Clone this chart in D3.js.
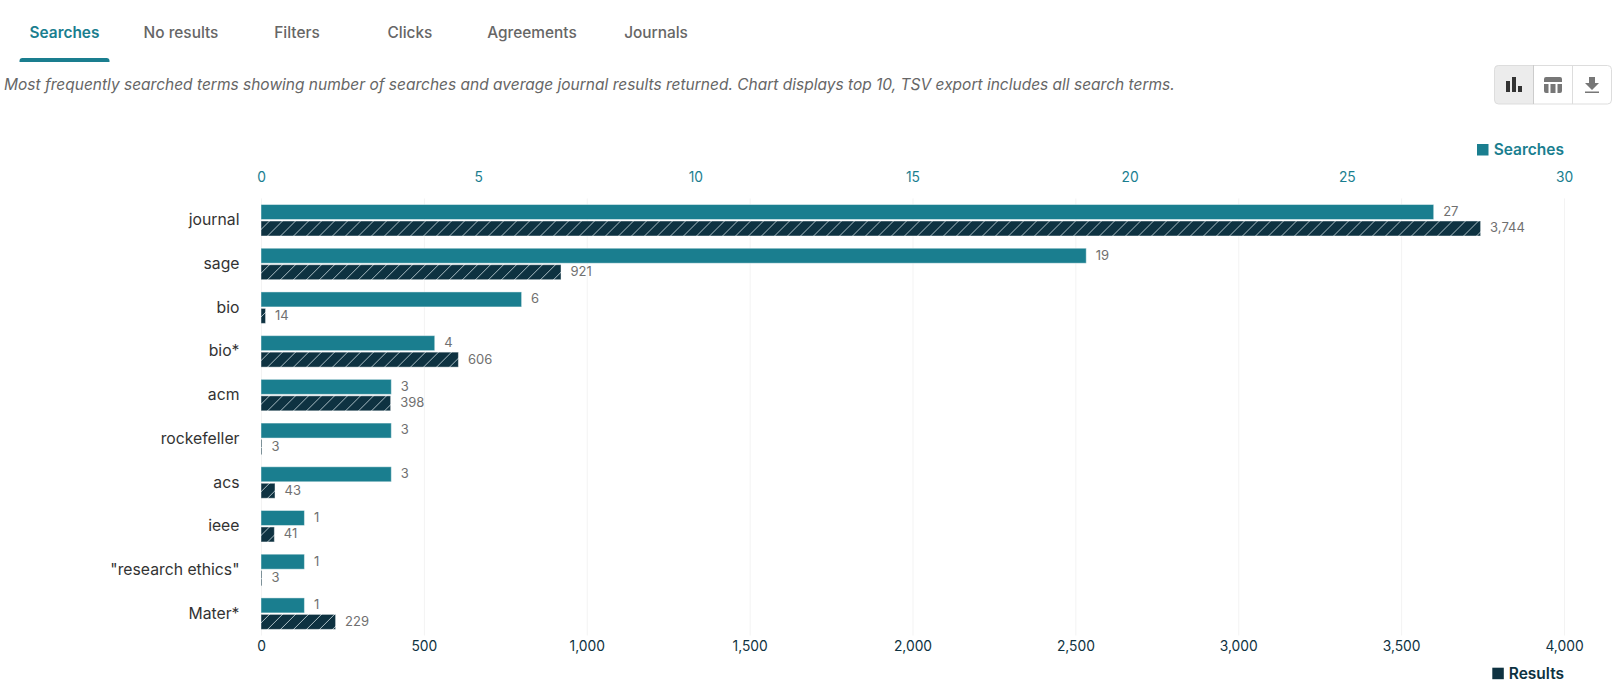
<!DOCTYPE html>
<html>
<head>
<meta charset="utf-8">
<script src="https://cdn.jsdelivr.net/npm/d3@7"></script>
<style>
  body { margin: 0; background: #fff; font-family: Inter, "Noto Sans", sans-serif; }
  svg { display: block; }
</style>
</head>
<body>
<svg id="chart" width="1616" height="692"></svg>
<script>
const terms = ['journal', 'sage', 'bio', 'bio*', 'acm', 'rockefeller', 'acs', 'ieee', '"research ethics"', 'Mater*'];
const searches = [27, 19, 6, 4, 3, 3, 3, 1, 1, 1];
const results = [3744, 921, 14, 606, 398, 3, 43, 41, 3, 229];
const searchTicks = [0, 5, 10, 15, 20, 25, 30];
const resultTicks = [0, 500, 1000, 1500, 2000, 2500, 3000, 3500, 4000];
const tabs = ['Searches', 'No results', 'Filters', 'Clicks', 'Agreements', 'Journals'];
const tabCentres = [64.5, 181, 297, 410, 532, 656];

const teal = '#1a7e8f';
const dark = '#0e3241';
const svg = d3.select('#chart');

// Tabs
svg.selectAll('.tab')
    .data(tabs)
    .enter()
    .append('text')
    .attr('class', 'tab')
    .attr('x', (d, i) => tabCentres[i])
    .attr('y', 37.5)
    .attr('text-anchor', 'middle')
    .attr('font-size', 15.4)
    .attr('font-weight', (d, i) => i === 0 ? 600 : 500)
    .attr('fill', (d, i) => i === 0 ? teal : '#666')
    .text(d => d);

svg.append('path')
    .attr('d', 'M19.5,62 v-1 a3,3 0 0 1 3,-3 h84 a3,3 0 0 1 3,3 v1 z')
    .attr('fill', teal);

svg.append('text')
    .attr('x', 4)
    .attr('y', 90)
    .attr('font-size', 15.5)
    .attr('font-style', 'italic')
    .attr('fill', '#666')
    .text('Most frequently searched terms showing number of searches and average journal results returned. Chart displays top 10, TSV export includes all search terms.');

// Toolbar buttons
const toolbar = svg.append('g');
toolbar.append('path')
    .attr('d', 'M1533.5,65 h-35 a4,4 0 0 0 -4,4 v31 a4,4 0 0 0 4,4 h35 z')
    .attr('fill', '#ececec');
toolbar.append('rect')
    .attr('x', 1494.5).attr('y', 65.5)
    .attr('width', 117).attr('height', 38.5).attr('rx', 4)
    .attr('fill', 'none').attr('stroke', '#ddd');
toolbar.append('line').attr('x1', 1533.5).attr('x2', 1533.5).attr('y1', 65).attr('y2', 104).attr('stroke', '#ccc');
toolbar.append('line').attr('x1', 1572.5).attr('x2', 1572.5).attr('y1', 65).attr('y2', 104).attr('stroke', '#ddd');
toolbar.append('path')
    .attr('d', 'M1506,81 h4 v11 h-4 z M1512,77 h4 v15 h-4 z M1518,86 h4 v6 h-4 z')
    .attr('fill', '#333');
toolbar.append('path')
    .attr('d', 'M1546,77 h14 a2,2 0 0 1 2,2 v3 h-18 v-3 a2,2 0 0 1 2,-2 z M1544,84 h4.5 v9 h-2.5 a2,2 0 0 1 -2,-2 z M1550.5,84 h5 v9 h-5 z M1557.5,84 h4.5 v7 a2,2 0 0 1 -2,2 h-2.5 z')
    .attr('fill', '#777');
toolbar.append('path')
    .attr('d', 'M1589,77 h6 v6 h4 l-7,7 l-7,-7 h4 z M1585,91.5 h14 v1.5 h-14 z')
    .attr('fill', '#777');

// Scales
const plotLeft = 261, plotRight = 1564, plotTop = 198.4, plotBottom = 635.5;
const xSearches = d3.scaleLinear().domain([0, 30]).range([plotLeft, plotRight]);
const xResults = d3.scaleLinear().domain([0, 4000]).range([plotLeft, plotRight]);
const y = d3.scaleBand().domain(terms).range([plotTop, plotBottom]).paddingInner(0.28).paddingOuter(0.14);
const inner = d3.scaleBand().domain(['searches', 'results']).range([0, y.bandwidth()]).paddingInner(0.09);

// Hatch for the results bars
const pattern = svg.append('defs').append('pattern')
    .attr('id', 'hatch')
    .attr('patternUnits', 'userSpaceOnUse')
    .attr('width', 13)
    .attr('height', 13);
pattern.append('rect').attr('width', 13).attr('height', 13).attr('fill', dark);
pattern.append('path')
    .attr('d', 'M-1,14 L14,-1 M-1,1 L1,-1 M12,14 L14,12')
    .attr('stroke', '#a9bcc3')
    .attr('stroke-width', 1);

// Axes
const topAxis = svg.append('g')
    .attr('transform', `translate(0,${plotTop})`)
    .call(d3.axisTop(xSearches).tickValues(searchTicks).tickSize(0).tickPadding(16));
topAxis.select('.domain').remove();
topAxis.selectAll('text').attr('fill', teal).attr('font-size', 13.8).attr('font-family', 'Inter');

const bottomAxis = svg.append('g')
    .attr('transform', `translate(0,${plotBottom})`)
    .call(d3.axisBottom(xResults).tickValues(resultTicks).tickSize(-(plotBottom - plotTop)).tickPadding(6).tickFormat(d3.format(',')));
bottomAxis.select('.domain').remove();
bottomAxis.selectAll('line').attr('stroke', '#f3f3f3');
bottomAxis.selectAll('text').attr('fill', dark).attr('font-size', 13.8).attr('font-family', 'Inter');

const leftAxis = svg.append('g')
    .attr('transform', `translate(${plotLeft},0)`)
    .call(d3.axisLeft(y).tickSize(0).tickPadding(21.5));
leftAxis.select('.domain').remove();
leftAxis.selectAll('text').attr('fill', '#333').attr('font-size', 15.75).attr('font-family', 'Inter');

// Bars and value labels
const rows = svg.selectAll('.row')
    .data(terms)
    .enter()
    .append('g')
    .attr('class', 'row')
    .attr('transform', d => `translate(0,${y(d)})`);

rows.append('rect')
    .attr('x', plotLeft)
    .attr('y', inner('searches'))
    .attr('width', (d, i) => xSearches(searches[i]) - plotLeft)
    .attr('height', inner.bandwidth())
    .attr('fill', teal)
    .attr('stroke', '#fff')
    .attr('stroke-opacity', 0.45);

rows.append('rect')
    .attr('x', plotLeft)
    .attr('y', inner('results'))
    .attr('width', (d, i) => xResults(results[i]) - plotLeft)
    .attr('height', inner.bandwidth())
    .attr('fill', 'url(#hatch)')
    .attr('stroke', '#fff')
    .attr('stroke-opacity', 0.45);

rows.append('text')
    .attr('x', (d, i) => xSearches(searches[i]) + 9.5)
    .attr('y', inner('searches') + inner.bandwidth() / 2)
    .attr('dy', '0.3em')
    .attr('font-size', 13)
    .attr('fill', '#707070')
    .text((d, i) => d3.format(',')(searches[i]));

rows.append('text')
    .attr('x', (d, i) => xResults(results[i]) + 9.5)
    .attr('y', inner('results') + inner.bandwidth() / 2)
    .attr('dy', '0.3em')
    .attr('font-size', 13)
    .attr('fill', '#707070')
    .text((d, i) => d3.format(',')(results[i]));

// Legends
svg.append('rect').attr('x', 1477).attr('y', 144).attr('width', 11.5).attr('height', 11.5).attr('fill', teal);
svg.append('text').attr('x', 1564).attr('y', 154.5).attr('text-anchor', 'end')
    .attr('font-size', 15.5).attr('font-weight', 600).attr('fill', teal).text('Searches');
svg.append('rect').attr('x', 1492.3).attr('y', 667.7).attr('width', 11.5).attr('height', 11.5).attr('fill', dark);
svg.append('text').attr('x', 1564).attr('y', 678.5).attr('text-anchor', 'end')
    .attr('font-size', 15.5).attr('font-weight', 600).attr('fill', dark).text('Results');
</script>
</body>
</html>
